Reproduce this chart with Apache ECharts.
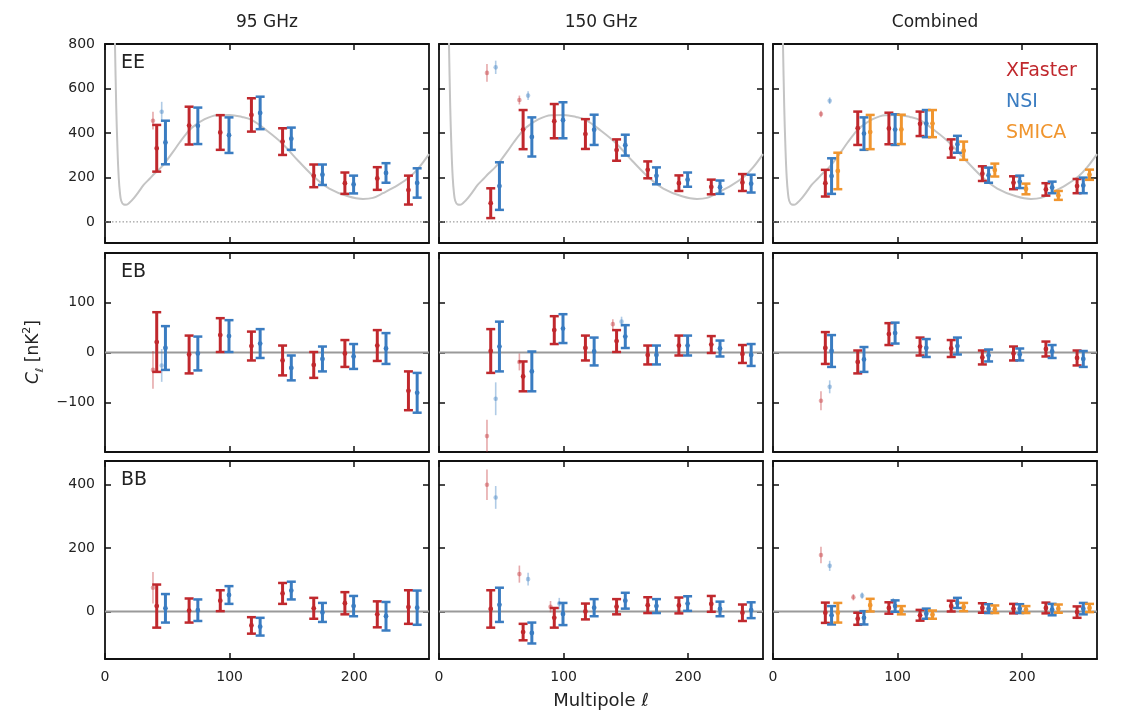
<!DOCTYPE html>
<html><head><meta charset="utf-8">
<script src="https://cdn.jsdelivr.net/npm/echarts@6/dist/echarts.min.js"></script>
<style>html,body{margin:0;padding:0;background:#fff}#c{width:1127px;height:721px}</style>
</head><body><div id="c"></div>
<script>
// ---------- data ----------
const ELL_BINS = [45, 71, 96, 121, 146, 171, 196, 222, 247];
const COLUMNS = ['95 GHz', '150 GHz', 'Combined'];
const SPECTRA = ['EE', 'EB', 'BB'];
const ESTIMATORS = ['XFaster', 'NSI', 'SMICA'];
const X_TICKS = [0, 100, 200];
const EE_TICKS = [0, 200, 400, 600, 800];
const EB_TICKS = [-100, 0, 100];
const BB_TICKS = [0, 200, 400];

// theory EE curve
const THEORY_ELL = [7, 8, 9, 10, 11, 12, 13, 15, 17, 20, 23, 27, 31, 36, 40, 45, 50, 55, 60, 65, 70, 80, 90, 100, 110, 118, 130, 142, 155, 169, 180, 195, 207, 215, 223, 235, 245, 252, 260];
const THEORY_EE  = [1100, 800, 520, 330, 200, 130, 95, 78, 77, 88, 106, 135, 166, 195, 219, 245, 280, 318, 358, 395, 425, 462, 480, 481, 472, 458, 410, 354, 275, 196, 150, 115, 103, 108, 129, 165, 204, 245, 305];

// EE
const EE95_XF = [331, 433, 402, 481, 361, 207, 174, 195, 143];
const EE95_XF_ERR = [105, 85, 78, 75, 60, 51, 48, 51, 65];
const EE95_NSI = [357, 432, 390, 490, 374, 212, 168, 220, 175];
const EE95_NSI_ERR = [98, 82, 80, 73, 50, 46, 40, 44, 66];
const EE150_XF = [84, 415, 453, 395, 323, 234, 174, 157, 177];
const EE150_XF_ERR = [67, 88, 77, 67, 48, 38, 35, 33, 38];
const EE150_NSI = [161, 382, 457, 414, 345, 207, 190, 156, 172];
const EE150_NSI_ERR = [107, 88, 81, 68, 47, 38, 32, 30, 40];
const EEC_XF = [174, 421, 420, 441, 330, 217, 176, 146, 161];
const EEC_XF_ERR = [60, 75, 71, 55, 41, 33, 29, 28, 32];
const EEC_NSI = [206, 397, 415, 442, 349, 210, 180, 155, 164];
const EEC_NSI_ERR = [80, 73, 69, 61, 38, 34, 28, 26, 35];
const EEC_SMICA = [229, 404, 416, 442, 320, 233, 148, 119, 212];
const EEC_SMICA_ERR = [82, 77, 66, 61, 41, 29, 24, 20, 23];
// EB
const EB95_XF = [21, -4, 35, 13, -16, -25, -2, 14, -77];
const EB95_XF_ERR = [60, 38, 34, 29, 30, 26, 27, 31, 39];
const EB95_NSI = [9, -2, 33, 18, -31, -13, -8, 8, -81];
const EB95_NSI_ERR = [44, 34, 32, 29, 25, 25, 25, 31, 40];
const EB150_XF = [3, -48, 45, 9, 23, -5, 14, 16, -3];
const EB150_XF_ERR = [44, 30, 28, 25, 22, 19, 20, 17, 18];
const EB150_NSI = [12, -38, 48, 2, 32, -5, 14, 8, -5];
const EB150_NSI_ERR = [50, 40, 29, 28, 23, 19, 20, 16, 22];
const EBC_XF = [9, -19, 37, 12, 8, -10, -2, 7, -11];
const EBC_XF_ERR = [32, 23, 22, 18, 17, 14, 14, 15, 15];
const EBC_NSI = [3, -14, 39, 9, 13, -6, -4, 2, -13];
const EBC_NSI_ERR = [32, 25, 21, 18, 17, 12, 12, 13, 16];
// BB
const BB95_XF = [17, 3, 34, -44, 57, 10, 26, -9, 14];
const BB95_XF_ERR = [68, 38, 33, 26, 33, 33, 35, 41, 53];
const BB95_NSI = [10, 4, 52, -48, 66, -3, 17, -15, 12];
const BB95_NSI_ERR = [45, 34, 28, 28, 28, 30, 32, 45, 54];
const BB150_XF = [8, -65, -20, 0, 15, 20, 19, 24, -4];
const BB150_XF_ERR = [59, 26, 31, 25, 24, 25, 25, 25, 26];
const BB150_NSI = [21, -68, -8, 12, 34, 17, 25, 8, 4];
const BB150_NSI_ERR = [54, 33, 35, 27, 25, 22, 23, 23, 25];
const BBC_XF = [-4, -23, 11, -12, 17, 11, 9, 11, -2];
const BBC_XF_ERR = [32, 19, 18, 17, 17, 15, 15, 17, 18];
const BBC_NSI = [-12, -20, 17, -7, 27, 9, 9, 6, 9];
const BBC_NSI_ERR = [29, 21, 18, 16, 16, 14, 14, 18, 18];
const BBC_SMICA = [-4, 20, 4, -10, 14, 7, 6, 9, 11];
const BBC_SMICA_ERR = [31, 20, 13, 13, 13, 12, 11, 13, 13];

// faint (alternative) points: [bin index, value, error]
const FAINT_EE95_XF = [[0, 455, 40]];
const FAINT_EE95_NSI = [[0, 495, 45]];
const FAINT_EE150_XF = [[0, 670, 40], [1, 548, 20]];
const FAINT_EE150_NSI = [[0, 695, 30], [1, 568, 20]];
const FAINT_EEC_XF = [[0, 485, 15]];
const FAINT_EEC_NSI = [[0, 545, 15]];
const FAINT_EB95_XF = [[0, -35, 38]];
const FAINT_EB95_NSI = [[0, -26, 33]];
const FAINT_EB150_XF = [[0, -168, 33], [1, -19, 17], [4, 57, 10]];
const FAINT_EB150_NSI = [[0, -93, 33], [4, 62, 10]];
const FAINT_EBC_XF = [[0, -97, 19]];
const FAINT_EBC_NSI = [[0, -69, 13]];
const FAINT_BB95_XF = [[0, 75, 50]];
const FAINT_BB95_NSI = [];
const FAINT_BB150_XF = [[0, 400, 48], [1, 118, 27], [2, 15, 18]];
const FAINT_BB150_NSI = [[0, 360, 36], [1, 102, 20], [2, 25, 18]];
const FAINT_BBC_XF = [[0, 178, 26], [1, 45, 10]];
const FAINT_BBC_NSI = [[0, 144, 16], [1, 50, 10], [2, 32, 10]];

// ---------- layout / style ----------
const FONT = 'DejaVu Sans';
const COLORS = { XFaster: '#c0282d', NSI: '#3a7cc1', SMICA: '#f0952e' };
const LEFTS = [105, 439, 773], W = 324;
const TOPS = [44, 253, 461], HS = [199, 199, 198];
const X_RANGE = [0, 260];
const Y_RANGES = { EE: [-95, 800], EB: [-200, 200], BB: [-150, 475] };
const Y_TICKS = { EE: EE_TICKS, EB: EB_TICKS, BB: BB_TICKS };
const OFF_SINGLE = { XFaster: -3.5, NSI: 3.5 };
const OFF_COMB = { XFaster: -3, NSI: 2, SMICA: 7 };
const OFF_FAINT = { XFaster: -6.5, NSI: 0.5 };

const PANELS = {
  EE: [
    [['XFaster', EE95_XF, EE95_XF_ERR, FAINT_EE95_XF], ['NSI', EE95_NSI, EE95_NSI_ERR, FAINT_EE95_NSI]],
    [['XFaster', EE150_XF, EE150_XF_ERR, FAINT_EE150_XF], ['NSI', EE150_NSI, EE150_NSI_ERR, FAINT_EE150_NSI]],
    [['XFaster', EEC_XF, EEC_XF_ERR, FAINT_EEC_XF], ['NSI', EEC_NSI, EEC_NSI_ERR, FAINT_EEC_NSI], ['SMICA', EEC_SMICA, EEC_SMICA_ERR, []]]
  ],
  EB: [
    [['XFaster', EB95_XF, EB95_XF_ERR, FAINT_EB95_XF], ['NSI', EB95_NSI, EB95_NSI_ERR, FAINT_EB95_NSI]],
    [['XFaster', EB150_XF, EB150_XF_ERR, FAINT_EB150_XF], ['NSI', EB150_NSI, EB150_NSI_ERR, FAINT_EB150_NSI]],
    [['XFaster', EBC_XF, EBC_XF_ERR, FAINT_EBC_XF], ['NSI', EBC_NSI, EBC_NSI_ERR, FAINT_EBC_NSI]]
  ],
  BB: [
    [['XFaster', BB95_XF, BB95_XF_ERR, FAINT_BB95_XF], ['NSI', BB95_NSI, BB95_NSI_ERR, FAINT_BB95_NSI]],
    [['XFaster', BB150_XF, BB150_XF_ERR, FAINT_BB150_XF], ['NSI', BB150_NSI, BB150_NSI_ERR, FAINT_BB150_NSI]],
    [['XFaster', BBC_XF, BBC_XF_ERR, FAINT_BBC_XF], ['NSI', BBC_NSI, BBC_NSI_ERR, FAINT_BBC_NSI], ['SMICA', BBC_SMICA, BBC_SMICA_ERR, []]]
  ]
};

function errRender(color, bold) {
  return function (params, api) {
    const x = api.value(0), y = api.value(1), e = api.value(2);
    const p = api.coord([x, y]), t = api.coord([x, y + e]), b = api.coord([x, y - e]);
    const lw = bold ? 3 : 1.6;
    const op = bold ? 1 : 0.4;
    const children = [
      { type: 'line', shape: { x1: p[0], y1: t[1], x2: p[0], y2: b[1] }, style: { stroke: color, lineWidth: lw, opacity: op } }
    ];
    if (bold) {
      children.push({ type: 'line', shape: { x1: p[0] - 4.5, y1: t[1], x2: p[0] + 4.5, y2: t[1] }, style: { stroke: color, lineWidth: 2.5 } });
      children.push({ type: 'line', shape: { x1: p[0] - 4.5, y1: b[1], x2: p[0] + 4.5, y2: b[1] }, style: { stroke: color, lineWidth: 2.5 } });
    }
    children.push({ type: 'circle', shape: { cx: p[0], cy: p[1], r: bold ? 2.4 : 2.3 }, style: { fill: color, opacity: op } });
    return { type: 'group', children: children };
  };
}

const grids = [], xAxes = [], yAxes = [], series = [];
const axisLineStyle = { show: true, onZero: false, lineStyle: { color: '#111', width: 1.8 } };
const labelStyle = { fontSize: 14, color: '#222', fontFamily: FONT };

SPECTRA.forEach(function (sp, r) {
  COLUMNS.forEach(function (col, c) {
    const g = r * 3 + c;
    grids.push({ left: LEFTS[c], top: TOPS[r], width: W, height: HS[r] });
    const tick = function (vals) { return { show: true, inside: true, length: 6, lineStyle: { color: '#111', width: 1.5 }, customValues: vals }; };
    const xb = { type: 'value', gridIndex: g, min: X_RANGE[0], max: X_RANGE[1], splitLine: { show: false }, axisLine: axisLineStyle, axisTick: tick(X_TICKS) };
    xAxes.push(Object.assign({}, xb, { position: 'bottom', axisLabel: Object.assign({ show: r === 2, customValues: X_TICKS, margin: 11 }, labelStyle) }));
    xAxes.push(Object.assign({}, xb, { position: 'top', axisLabel: { show: false } }));
    const yr = Y_RANGES[sp], yt = Y_TICKS[sp];
    const yb = { type: 'value', gridIndex: g, min: yr[0], max: yr[1], splitLine: { show: false }, axisLine: axisLineStyle, axisTick: tick(yt) };
    yAxes.push(Object.assign({}, yb, { position: 'left', axisLabel: Object.assign({ show: c === 0, customValues: yt, margin: 10, formatter: function (v) { return String(v).replace('-', '\u2212'); } }, labelStyle) }));
    yAxes.push(Object.assign({}, yb, { position: 'right', axisLabel: { show: false } }));
    const xi = 2 * g, yi = 2 * g;

    // zero line
    series.push({
      type: 'line', xAxisIndex: xi, yAxisIndex: yi, data: [[X_RANGE[0], 0], [X_RANGE[1], 0]], symbol: 'none', silent: true, z: 1,
      lineStyle: sp === 'EE' ? { color: '#888', width: 1, type: [1.5, 2] } : { color: '#9a9a9a', width: 2 }
    });
    if (sp === 'EE') {
      series.push({
        type: 'line', xAxisIndex: xi, yAxisIndex: yi, data: THEORY_ELL.map(function (l, i) { return [l, THEORY_EE[i]]; }),
        symbol: 'none', smooth: 0.35, clip: true, silent: true, z: 1, lineStyle: { color: '#c4c4c4', width: 2 }
      });
    }
    const sets = PANELS[sp][c];
    const offs = c === 2 ? OFF_COMB : OFF_SINGLE;
    sets.forEach(function (s) {
      const name = s[0], vals = s[1], errs = s[2], faint = s[3];
      if (faint.length) {
        series.push({
          type: 'custom', xAxisIndex: xi, yAxisIndex: yi, z: 2, clip: true,
          renderItem: errRender(COLORS[name], false),
          data: faint.map(function (f) { return [ELL_BINS[f[0]] + OFF_FAINT[name], f[1], f[2]]; })
        });
      }
      series.push({
        type: 'custom', xAxisIndex: xi, yAxisIndex: yi, z: 3, clip: true,
        renderItem: errRender(COLORS[name], true),
        data: vals.map(function (v, i) { return [ELL_BINS[i] + offs[name], v, errs[i]]; })
      });
    });
  });
});

const graphics = [];
COLUMNS.forEach(function (t, c) {
  graphics.push({ type: 'text', x: LEFTS[c] + W / 2, y: 14, style: { text: t, fontSize: 17, fontFamily: FONT, fill: '#222', textAlign: 'center' } });
});
SPECTRA.forEach(function (sp, r) {
  graphics.push({ type: 'text', x: 121, y: TOPS[r] + 10, style: { text: sp, fontSize: 19, fontFamily: FONT, fill: '#222' } });
});
['XFaster', 'NSI', 'SMICA'].forEach(function (n, i) {
  graphics.push({ type: 'text', x: 1006, y: 62 + i * 31, style: { text: n, fontSize: 19, fontFamily: FONT, fill: COLORS[n] } });
});
graphics.push({ type: 'text', x: 601, y: 692, style: { text: 'Multipole \u2113', fontSize: 18, fontFamily: FONT, fill: '#222', textAlign: 'center' } });
graphics.push({
  type: 'text', x: 34, y: 352, rotation: Math.PI / 2,
  style: {
    text: '{c|C}{s|\u2113}{n| [nK}{p|2}{n|]}', textAlign: 'center', textVerticalAlign: 'middle', fill: '#222', fontFamily: FONT,
    rich: {
      c: { fontSize: 17, fontStyle: 'italic', fontFamily: FONT, lineHeight: 24, verticalAlign: 'middle' },
      s: { fontSize: 11, fontStyle: 'italic', fontFamily: FONT, lineHeight: 24, verticalAlign: 'bottom' },
      n: { fontSize: 17, fontFamily: FONT, lineHeight: 24, verticalAlign: 'middle' },
      p: { fontSize: 11, fontFamily: FONT, lineHeight: 24, verticalAlign: 'top' }
    }
  }
});

const chart = echarts.init(document.getElementById('c'), null, { renderer: 'canvas' });
chart.setOption({
  animation: false,
  backgroundColor: '#fff',
  grid: grids, xAxis: xAxes, yAxis: yAxes, series: series, graphic: graphics
});
</script></body></html>
